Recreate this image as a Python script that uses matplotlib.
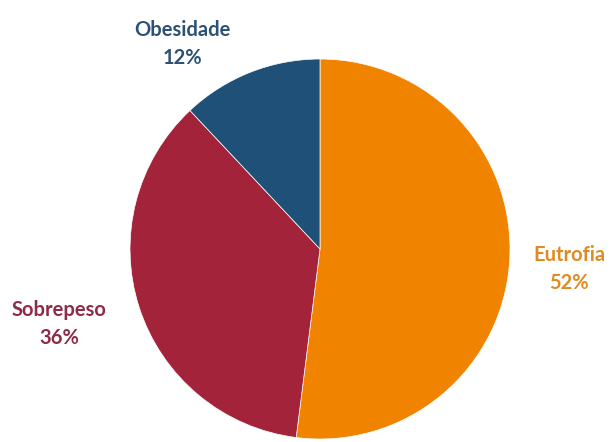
import matplotlib.pyplot as plt

labels = ["Eutrofia", "Sobrepeso", "Obesidade"]
values = [52, 36, 12]
colors = ["#F08300", "#A2233A", "#1F5178"]
text_colors = ["#E08A22", "#8E2C48", "#2B5274"]
# label anchor positions in pixels (x, y from top)
label_pos = [(569, 269), (59, 324), (182, 44)]

fig = plt.figure(figsize=(6.13, 4.42), dpi=100)
ax = fig.add_axes([0, 0, 1, 1])

ax.pie(values, colors=colors, startangle=90, counterclock=False,
       center=(320, 442 - 249), radius=190, frame=True,
       wedgeprops=dict(linewidth=0.5, edgecolor="white"))
ax.set_xlim(0, 613)
ax.set_ylim(0, 442)
ax.set_aspect("equal")
ax.axis("off")

for lab, v, c, (x, y) in zip(labels, values, text_colors, label_pos):
    ax.text(x, 442 - y, f"{lab}\n{v}%", color=c, ha="center", va="center",
            fontsize=14.5, fontweight="bold", family="Lato", linespacing=1.45)

fig.savefig("out.png", dpi=100)
